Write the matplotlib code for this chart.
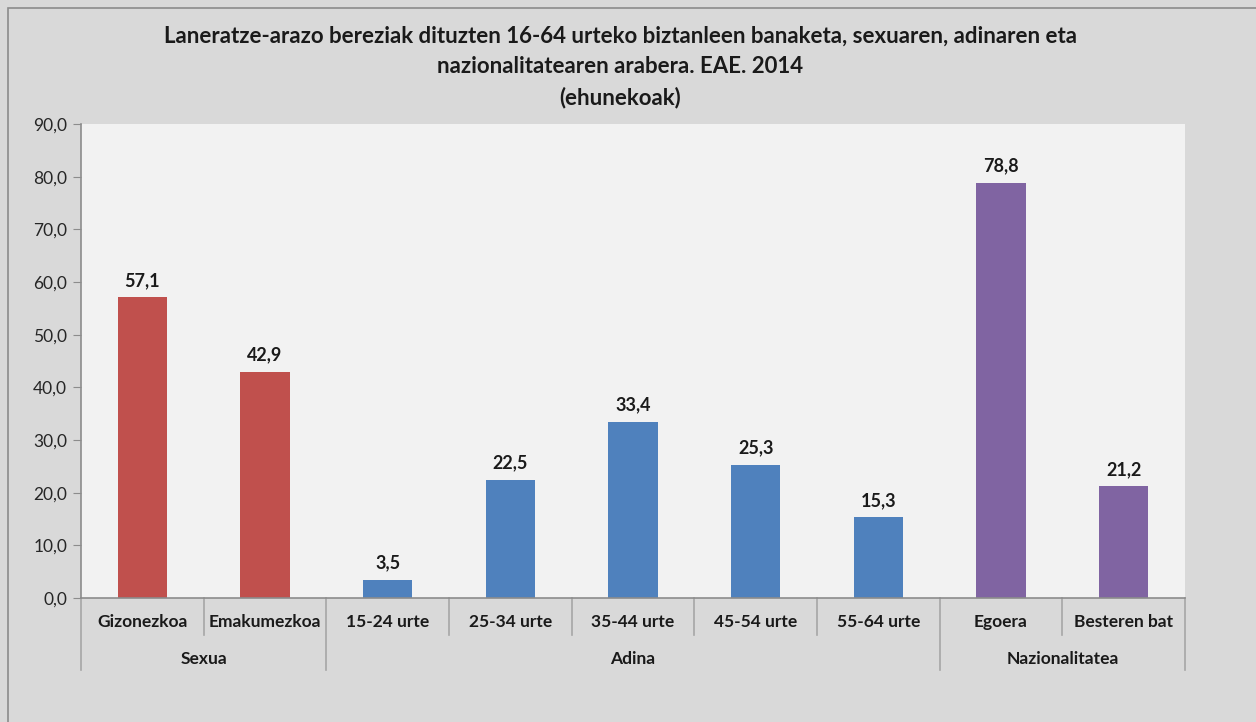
import matplotlib.pyplot as plt
from matplotlib.patches import Rectangle
from matplotlib.lines import Line2D
import numpy as np

plt.rcParams['font.family'] = ['Lato', 'DejaVu Sans']

title = ("Laneratze-arazo bereziak dituzten 16-64 urteko biztanleen banaketa, sexuaren, adinaren eta\n"
         "nazionalitatearen arabera. EAE. 2014\n(ehunekoak)")
categories = ["Gizonezkoa", "Emakumezkoa", "15-24 urte", "25-34 urte", "35-44 urte",
              "45-54 urte", "55-64 urte", "Egoera", "Besteren bat"]
values = [57.1, 42.9, 3.5, 22.5, 33.4, 25.3, 15.3, 78.8, 21.2]
groups = ["Sexua", "Adina", "Nazionalitatea"]
group_sizes = [2, 5, 2]
group_colors = ["#c0504d", "#4f81bd", "#8064a2"]

W, H = 1256, 722
fig = plt.figure(figsize=(W / 100, H / 100), dpi=100)
fig.patch.set_facecolor("#d9d9d9")
# outer chart frame
fig.patches.append(Rectangle((8 / W, -0.01), 1.02, 1 - 8 / H + 0.01, transform=fig.transFigure,
                             fill=False, edgecolor="#8c8c8c", linewidth=1.2))

ax = fig.add_axes([81 / W, 1 - 598 / H, (1185 - 81) / W, (598 - 124) / H])
ax.set_facecolor("#f2f2f2")

colors = []
for g, n in enumerate(group_sizes):
    colors += [group_colors[g]] * n
x = np.arange(len(categories))
bars = ax.bar(x, values, width=0.4, color=colors, zorder=2)
for xi, v in zip(x, values):
    ax.text(xi, v + 1.6, f"{v:.1f}".replace(".", ","), ha="center", va="bottom",
            fontsize=13, fontweight="bold", color="#1a1a1a")

ax.set_xlim(-0.5, len(categories) - 0.5)
ax.set_ylim(0, 90)
ax.set_yticks(np.arange(0, 91, 10))
ax.set_yticklabels([f"{t:.1f}".replace(".", ",") for t in np.arange(0, 91, 10)],
                   fontsize=12.5, color="#262626")
ax.tick_params(axis="y", direction="out", length=6, color="#8c8c8c", pad=4)
ax.set_xticks([])
for s in ["top", "right"]:
    ax.spines[s].set_visible(False)
for s in ["left", "bottom"]:
    ax.spines[s].set_color("#8c8c8c")
    ax.spines[s].set_linewidth(1.2)

# two-level category axis
trans = ax.get_xaxis_transform()
y1 = -(635 - 598) / (598 - 124)
y2 = -(670 - 598) / (598 - 124)
for i, c in enumerate(categories):
    ax.text(i, -(622 - 598) / (598 - 124), c, transform=trans, ha="center", va="center",
            fontsize=12.5, fontweight="bold", color="#1a1a1a")
bounds = np.cumsum([0] + group_sizes)
for b in range(len(categories) + 1):
    y_end = y2 if b in bounds else y1
    ax.add_line(Line2D([b - 0.5, b - 0.5], [0, y_end], transform=trans,
                       color="#a6a6a6", linewidth=1.2, clip_on=False))
for g, name in enumerate(groups):
    mid = (bounds[g] + bounds[g + 1] - 1) / 2
    ax.text(mid, -(659 - 598) / (598 - 124), name, transform=trans, ha="center", va="center",
            fontsize=12.5, fontweight="bold", color="#1a1a1a")

fig.text(620 / W, 1 - 67 / H, title, ha="center", va="center", fontsize=16,
         fontweight="bold", color="#1a1a1a", linespacing=1.55)

fig.savefig("out.png", dpi=100, facecolor=fig.get_facecolor())
